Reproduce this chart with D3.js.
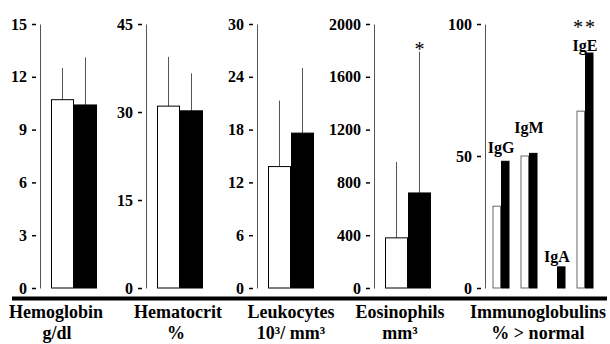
<!DOCTYPE html>
<html>
<head>
<meta charset="utf-8">
<script src="https://cdnjs.cloudflare.com/ajax/libs/d3/7.8.5/d3.min.js"></script>
<style>
  body { margin: 0; background: #fff; }
  text { font-family: "Liberation Serif", "Times New Roman", serif; }
</style>
</head>
<body>
<div id="chart-area"></div>
<script>
/*
*    blood values vs. immunoglobulins
*/
var panelNames = ["Hemoglobin", "Hematocrit", "Leukocytes", "Eosinophils"];
var panelUnits = ["g/dl", "%", "10³/ mm³", "mm³"];
var panelMax = [15, 45, 30, 2000];
var panelTicks = [
    [0, 3, 6, 9, 12, 15],
    [0, 15, 30, 45],
    [0, 6, 12, 18, 24, 30],
    [0, 400, 800, 1200, 1600, 2000]
];
var whiteMean = [10.7, 31.0, 13.8, 380];
var whiteErr = [12.5, 39.4, 21.3, 955];
var blackMean = [10.4, 30.2, 17.6, 720];
var blackErr = [13.1, 36.6, 25.0, 1790];
var panelStars = ["", "", "", "*"];

var igName = "Immunoglobulins";
var igUnit = "% > normal";
var igCats = ["IgG", "IgM", "IgA", "IgE"];
var igWhite = [31, 50, 0, 67];
var igBlack = [48, 51, 8, 89];
var igStars = ["", "", "", "**"];
var igTicks = [0, 50, 100];

var W = 610, H = 344;
var yTop = 24, yBottom = 288;
var axisX = [40, 146, 257, 374];
var igAxisX = 485;
var labelX = [56, 178, 291, 400];
var unitX = [57, 176, 291, 400];
var igLabelX = 538;
var igLabelGap = [8, 20, 5, 2];
var serif = "'Liberation Serif', 'Times New Roman', serif";

var svg = d3.select("#chart-area").append("svg")
    .attr("width", W)
    .attr("height", H);

var groups = ["white", "black"];

function styleAxis(ax) {
    ax.attr("font-family", serif);
    ax.select(".domain").attr("stroke", "#555");
    ax.selectAll(".tick line").attr("stroke", "#000").attr("stroke-width", 1.5)
        .attr("x1", -8).attr("x2", -4);
    ax.selectAll(".tick text").attr("font-size", 16).attr("font-weight", "bold")
        .attr("fill", "#000");
}

panelNames.forEach((name, i) => {
    var y = d3.scaleLinear().domain([0, panelMax[i]]).range([yBottom, yTop]);
    var x = d3.scaleBand().domain(groups)
        .range([axisX[i] + 11, axisX[i] + 57]).padding(0);

    var ax = svg.append("g")
        .attr("transform", "translate(" + axisX[i] + ",0)")
        .call(d3.axisLeft(y).tickValues(panelTicks[i]).tickFormat(d3.format("d"))
            .tickSize(8).tickSizeOuter(0).tickPadding(5));
    styleAxis(ax);

    var vals = [
        {g: "white", v: whiteMean[i], e: whiteErr[i]},
        {g: "black", v: blackMean[i], e: blackErr[i]}
    ];

    // error bars (one-sided)
    svg.selectAll(null).data(vals).enter().append("line")
        .attr("x1", (d) => x(d.g) + x.bandwidth() / 2)
        .attr("x2", (d) => x(d.g) + x.bandwidth() / 2)
        .attr("y1", (d) => y(d.v))
        .attr("y2", (d) => y(d.e))
        .attr("stroke", "#555")
        .attr("stroke-width", 1);

    svg.selectAll(null).data(vals).enter().append("rect")
        .attr("x", (d) => x(d.g) + 0.5)
        .attr("y", (d) => y(d.v))
        .attr("width", x.bandwidth() - 1)
        .attr("height", (d) => y(0) - y(d.v))
        .attr("fill", (d) => d.g == "black" ? "#000" : "#fff")
        .attr("stroke", "#000")
        .attr("stroke-width", 1);

    if (panelStars[i]) {
        svg.append("text")
            .attr("x", x("black") + x.bandwidth() / 2)
            .attr("y", y(blackErr[i]) + 4)
            .attr("text-anchor", "middle")
            .attr("font-size", 20)
            .text(panelStars[i]);
    }

    svg.append("text")
        .attr("x", labelX[i]).attr("y", 318)
        .attr("text-anchor", "middle")
        .attr("font-size", 18).attr("font-weight", "bold")
        .text(name);
    svg.append("text")
        .attr("x", unitX[i]).attr("y", 339)
        .attr("text-anchor", "middle")
        .attr("font-size", 18).attr("font-weight", "bold")
        .text(panelUnits[i]);
});

// immunoglobulins panel
var yIg = d3.scaleLinear().domain([0, 100]).range([yBottom, yTop]);
var xIg = d3.scalePoint().domain(igCats).range([501, 585]);
var xSub = d3.scaleBand().domain(groups).range([-8.5, 8.5]);

var axIg = svg.append("g")
    .attr("transform", "translate(" + igAxisX + ",0)")
    .call(d3.axisLeft(yIg).tickValues(igTicks).tickSize(8).tickSizeOuter(0).tickPadding(5));
styleAxis(axIg);

var igData = [];
igCats.forEach((c, i) => {
    igData.push({c: c, g: "white", v: igWhite[i]});
    igData.push({c: c, g: "black", v: igBlack[i]});
});

svg.selectAll(null).data(igData.filter((d) => d.v > 0)).enter().append("rect")
    .attr("x", (d) => xIg(d.c) + xSub(d.g) + 0.5)
    .attr("y", (d) => yIg(d.v))
    .attr("width", xSub.bandwidth() - 1)
    .attr("height", (d) => yIg(0) - yIg(d.v))
    .attr("fill", (d) => d.g == "black" ? "#000" : "#fff")
    .attr("stroke", (d) => d.g == "black" ? "#000" : "#444")
    .attr("stroke-width", (d) => d.g == "black" ? 1 : 0.8);

igCats.forEach((c, i) => {
    var top = yIg(Math.max(igWhite[i], igBlack[i]));
    svg.append("text")
        .attr("x", xIg(c))
        .attr("y", top - igLabelGap[i])
        .attr("text-anchor", "middle")
        .attr("font-size", 16).attr("font-weight", "bold")
        .text(c);
    if (igStars[i]) {
        svg.append("text")
            .attr("x", xIg(c))
            .attr("y", top - 19)
            .attr("text-anchor", "middle")
            .attr("font-size", 20)
            .attr("letter-spacing", 2)
            .text(igStars[i]);
    }
});

svg.append("text")
    .attr("x", igLabelX).attr("y", 318)
    .attr("text-anchor", "middle")
    .attr("font-size", 18).attr("font-weight", "bold")
    .text(igName);
svg.append("text")
    .attr("x", igLabelX).attr("y", 339)
    .attr("text-anchor", "middle")
    .attr("font-size", 18).attr("font-weight", "bold")
    .text(igUnit);

// thick baseline
svg.append("line")
    .attr("x1", 12).attr("x2", 607)
    .attr("y1", 298.5).attr("y2", 298.5)
    .attr("stroke", "#000")
    .attr("stroke-width", 4);
</script>
</body>
</html>
